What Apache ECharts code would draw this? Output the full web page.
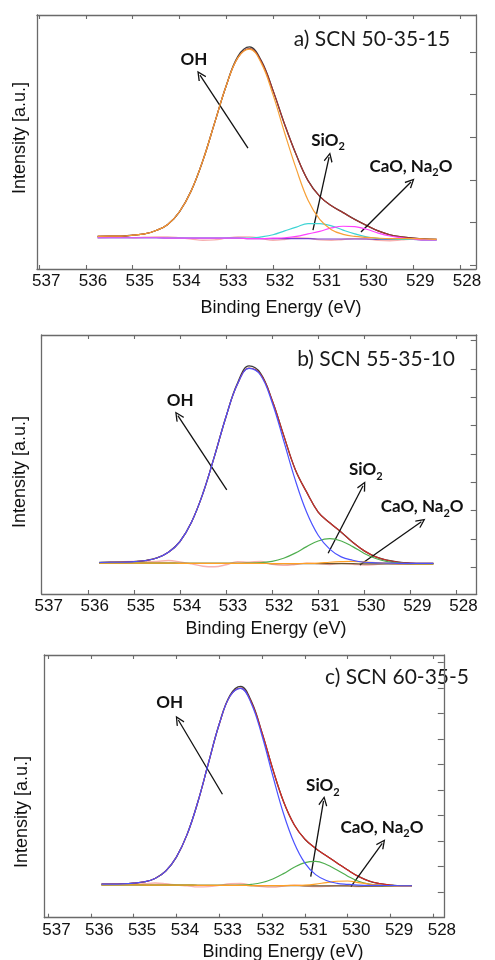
<!DOCTYPE html>
<html><head><meta charset="utf-8">
<script src="https://cdn.jsdelivr.net/npm/echarts@6/dist/echarts.min.js"></script>
<style>html,body{margin:0;padding:0;background:#fff}#c{width:495px;height:960px}</style>
</head><body><div id="c"></div>
<script>
// Binding energy grid (eV) shared by all fitted curves
const energy = [535.75,535.5,535.25,535.0,534.75,534.5,534.25,534.0,533.75,533.5,533.25,533.0,532.75,532.5,532.25,532.0,531.75,531.5,531.25,531.0,530.75,530.5,530.25,530.0,529.75,529.5,529.25,529.0,528.75,528.5];
const xTickLabels = [528,529,530,531,532,533,534,535,536,537];

// a) SCN 50-35-15
const a_total = [0.67,0.68,0.68,0.70,0.73,0.81,0.95,1.25,1.74,2.45,3.33,4.21,4.90,5.12,4.80,4.10,3.30,2.58,1.98,1.61,1.39,1.23,1.07,0.93,0.80,0.71,0.66,0.63,0.61,0.60];
const a_fit   = [0.67,0.68,0.68,0.70,0.73,0.81,0.95,1.25,1.74,2.45,3.33,4.21,4.87,5.08,4.78,4.10,3.30,2.58,1.98,1.61,1.39,1.23,1.07,0.93,0.80,0.71,0.66,0.63,0.61,0.60];
const a_oh    = [0.67,0.68,0.68,0.70,0.73,0.81,0.95,1.25,1.74,2.45,3.33,4.21,4.87,5.07,4.74,4.00,3.10,2.25,1.52,1.07,0.83,0.72,0.67,0.65,0.63,0.62,0.62,0.62,0.61,0.60];
const a_sio2  = [0.64,0.64,0.64,0.64,0.64,0.64,0.63,0.63,0.63,0.63,0.63,0.63,0.63,0.63,0.66,0.71,0.80,0.89,0.97,0.97,0.92,0.82,0.73,0.66,0.62,0.61,0.60,0.60,0.59,0.59];
const a_cao   = [0.64,0.64,0.64,0.64,0.64,0.64,0.63,0.63,0.63,0.63,0.63,0.63,0.63,0.62,0.62,0.63,0.64,0.67,0.73,0.79,0.87,0.91,0.90,0.84,0.75,0.68,0.64,0.61,0.59,0.59];
const a_bg    = [0.64,0.64,0.64,0.64,0.64,0.64,0.63,0.63,0.63,0.63,0.63,0.63,0.63,0.62,0.62,0.62,0.62,0.62,0.62,0.61,0.61,0.61,0.61,0.61,0.60,0.60,0.60,0.60,0.59,0.59];
const a_resid = [0.64,0.65,0.66,0.64,0.65,0.66,0.66,0.64,0.61,0.58,0.59,0.63,0.66,0.66,0.62,0.58,0.60,0.64,0.63,0.59,0.58,0.60,0.62,0.61,0.58,0.57,0.59,0.61,0.59,0.59];

// b) SCN 55-35-10
const b_total = [0.17,0.18,0.18,0.20,0.24,0.33,0.53,0.91,1.59,2.61,3.92,5.31,6.50,7.10,6.84,5.89,4.66,3.46,2.65,1.95,1.57,1.24,0.88,0.58,0.37,0.25,0.18,0.15,0.14,0.14];
const b_fit   = [0.17,0.18,0.18,0.20,0.24,0.33,0.53,0.91,1.59,2.61,3.92,5.31,6.46,7.02,6.80,5.89,4.66,3.46,2.65,1.95,1.57,1.24,0.88,0.58,0.37,0.25,0.18,0.15,0.14,0.14];
const b_oh    = [0.17,0.18,0.18,0.20,0.24,0.33,0.53,0.91,1.59,2.61,3.92,5.31,6.46,7.01,6.77,5.81,4.47,3.09,1.94,1.13,0.64,0.37,0.25,0.18,0.16,0.15,0.14,0.14,0.14,0.14];
const b_sio2  = [0.15,0.15,0.15,0.15,0.15,0.15,0.15,0.14,0.14,0.14,0.14,0.14,0.14,0.15,0.17,0.21,0.32,0.50,0.73,0.93,1.01,0.93,0.73,0.49,0.31,0.20,0.15,0.13,0.12,0.12];
const b_cao   = [0.15,0.15,0.15,0.15,0.15,0.15,0.15,0.14,0.14,0.14,0.14,0.14,0.14,0.14,0.14,0.13,0.13,0.13,0.14,0.15,0.18,0.20,0.21,0.19,0.17,0.15,0.13,0.13,0.12,0.12];
const b_bg    = [0.15,0.15,0.15,0.15,0.15,0.15,0.15,0.14,0.14,0.14,0.14,0.14,0.14,0.14,0.14,0.13,0.13,0.13,0.13,0.13,0.13,0.13,0.13,0.12,0.12,0.12,0.12,0.12,0.12,0.12];
const b_resid = [0.15,0.17,0.20,0.21,0.20,0.21,0.24,0.19,0.12,0.04,0.02,0.09,0.20,0.18,0.21,0.11,0.07,0.10,0.15,0.13,0.10,0.14,0.11,0.08,0.10,0.13,0.12,0.11,0.12,0.12];

// c) SCN 60-35-5
const c_total = [0.31,0.31,0.32,0.35,0.40,0.53,0.82,1.37,2.26,3.53,5.07,6.59,7.72,8.07,7.48,6.24,4.82,3.55,2.64,2.07,1.71,1.42,1.14,0.86,0.61,0.43,0.33,0.27,0.24,0.24];
const c_fit   = [0.31,0.31,0.32,0.35,0.40,0.53,0.82,1.37,2.26,3.53,5.07,6.59,7.68,8.00,7.44,6.24,4.82,3.55,2.64,2.07,1.71,1.42,1.14,0.86,0.61,0.43,0.33,0.27,0.24,0.24];
const c_oh    = [0.31,0.31,0.32,0.35,0.40,0.53,0.82,1.37,2.26,3.53,5.07,6.59,7.68,7.99,7.39,6.12,4.56,3.08,1.92,1.13,0.68,0.45,0.34,0.30,0.27,0.26,0.26,0.25,0.24,0.24];
const c_sio2  = [0.28,0.28,0.28,0.28,0.27,0.27,0.27,0.27,0.27,0.26,0.26,0.26,0.26,0.27,0.30,0.37,0.51,0.72,0.97,1.15,1.20,1.08,0.86,0.62,0.42,0.31,0.26,0.24,0.22,0.22];
const c_cao   = [0.28,0.28,0.28,0.28,0.27,0.27,0.27,0.27,0.27,0.26,0.26,0.26,0.26,0.26,0.25,0.25,0.25,0.25,0.26,0.27,0.31,0.37,0.42,0.43,0.37,0.31,0.27,0.24,0.22,0.22];
const c_bg    = [0.28,0.28,0.28,0.28,0.27,0.27,0.27,0.27,0.27,0.26,0.26,0.26,0.26,0.26,0.25,0.25,0.25,0.25,0.25,0.24,0.24,0.24,0.24,0.24,0.23,0.23,0.23,0.23,0.22,0.22];
const c_resid = [0.28,0.30,0.32,0.31,0.32,0.35,0.32,0.27,0.24,0.20,0.21,0.26,0.32,0.33,0.27,0.21,0.19,0.23,0.27,0.24,0.21,0.22,0.25,0.24,0.21,0.23,0.24,0.23,0.22,0.22];

// Panel texts
const titles = ['a) SCN 50-35-15', 'b) SCN 55-35-10', 'c) SCN 60-35-5'];
const xName = 'Binding Energy (eV)';
const yName = 'Intensity [a.u.]';
const peakLabels = ['{b|OH}', '{b|SiO}{s|2}', '{b|CaO, Na}{s|2}{b|O}'];

// Layout / annotation placement (data coordinates of each panel)
const panels = [
  { grid:{left:37, top:15, width:439, height:254}, xMin:527.658, xMax:537.047, yMin:-0.094, yMax:5.87, yTicks:[0,1,2,3,4,5], shift:14,
    s:{total:a_total, fit:a_fit, oh:a_oh, sio2:a_sio2, cao:a_cao, bg:a_bg, resid:a_resid},
    colors:{oh:'#f7a036', sio2:'#3fd4d4', cao:'#ff40ff', bg:'#7b3fd0', fit:'#a8342f'},
    arrows:[[[532.535,2.746],[533.561,4.46]], [[531.145,0.82],[530.80,2.535]], [[530.118,0.775],[529.049,1.948]]],
    labels:[[533.689,4.836],[530.824,2.934],[529.049,2.324]],
    title:[372,39], xNamePos:[281,308], yNamePos:[20,138] },
  { grid:{left:41.7, top:335, width:435, height:259}, xMin:527.56, xMax:537.0, yMin:-0.94, yMax:8.19, yTicks:[0,1,2,3,4,5,6,7,8], shift:14,
    s:{total:b_total, fit:b_fit, oh:b_oh, sio2:b_sio2, cao:b_cao, bg:b_bg, resid:b_resid},
    colors:{oh:'#4b52ff', sio2:'#4fae4f', cao:'#ffa024', bg:'#6b5530', fit:'#c9302a'},
    arrows:[[[532.984,2.727],[534.045,5.347]], [[530.784,0.494],[530.026,2.878]], [[530.097,0.081],[528.761,1.608]]],
    labels:[[533.995,5.866],[529.968,3.432],[528.744,2.138]],
    title:[376,359], xNamePos:[266,629], yNamePos:[20,472] },
  { grid:{left:44.3, top:655, width:437.4, height:262.7}, xMin:527.757, xMax:537.085, yMin:-1.01, yMax:9.30, yTicks:[0,1,2,3,4,5,6,7,8,9], shift:17,
    s:{total:c_total, fit:c_fit, oh:c_oh, sio2:c_sio2, cao:c_cao, bg:c_bg, resid:c_resid},
    colors:{oh:'#4b52ff', sio2:'#4fae4f', cao:'#ffa024', bg:'#6b5530', fit:'#d62a22'},
    arrows:[[[532.926,3.834],[533.956,6.75]], [[530.864,0.60],[530.565,3.571]], [[529.925,0.208],[529.194,1.911]]],
    labels:[[534.155,7.43],[530.58,4.16],[529.201,2.539]],
    title:[397,677], xNamePos:[283,952], yNamePos:[21.7,812] }
];

const boxColor = '#6a6a6a';
const arrowHead = 'path://M5,0 L10,9 L8.8,9.8 L5,2.8 L1.2,9.8 L0,9 Z';
const grids = [], xAxes = [], yAxes = [], series = [], graphics = [];

panels.forEach((p, i) => {
  grids.push(Object.assign({}, p.grid));
  const axisLine = {show:true, onZero:false, lineStyle:{color:boxColor, width:1.3}};
  const tickStyle = {color:boxColor, width:1.1};
  xAxes.push({gridIndex:i, type:'value', min:p.xMin, max:p.xMax, inverse:true, position:'bottom',
    axisLine, axisTick:{show:true, inside:true, length:4, customValues:xTickLabels, lineStyle:tickStyle},
    axisLabel:{show:true, customValues:xTickLabels, fontFamily:'Liberation Sans', fontSize:17, color:'#111', margin:4, padding:[0,0,0,p.shift]},
    splitLine:{show:false}});
  xAxes.push({gridIndex:i, type:'value', min:p.xMin, max:p.xMax, inverse:true, position:'top',
    axisLine, axisTick:{show:true, inside:true, length:4, customValues:xTickLabels, lineStyle:tickStyle},
    axisLabel:{show:false}, splitLine:{show:false}});
  yAxes.push({gridIndex:i, type:'value', min:p.yMin, max:p.yMax, position:'left',
    axisLine, axisTick:{show:false}, axisLabel:{show:false}, splitLine:{show:false}});
  yAxes.push({gridIndex:i, type:'value', min:p.yMin, max:p.yMax, position:'right',
    axisLine, axisTick:{show:true, inside:true, length:6, customValues:p.yTicks, lineStyle:tickStyle},
    axisLabel:{show:false}, splitLine:{show:false}});
  const xi = 2*i, yi = 2*i;
  const mk = (arr, color, width, z, extra) => Object.assign({
    type:'line', xAxisIndex:xi, yAxisIndex:yi, data: energy.map((e,k) => [e, arr[k]]),
    showSymbol:false, symbol:'none', smooth:0.4, lineStyle:{color, width}, itemStyle:{color},
    z, silent:true, animation:false}, extra || {});
  series.push(mk(p.s.resid, '#f6b0b0', 1.4, 2));
  series.push(mk(p.s.total, '#3a3a3a', 1.3, 3, {
    markLine:{silent:true, animation:false, symbol:['none', arrowHead], symbolSize:[9,10],
      label:{show:false}, lineStyle:{color:'#111', width:1.3, type:'solid'},
      data: p.arrows.map(a => [{coord:a[0]}, {coord:a[1]}])},
    markPoint:{silent:true, animation:false,
      data: p.labels.map((pos, k) => ({coord:pos, symbol:'circle', symbolSize:1, itemStyle:{color:'rgba(0,0,0,0)'},
        label:{show:true, position:'inside', formatter:peakLabels[k],
          rich:{b:{fontFamily:'Lato', fontWeight:'bold', fontSize:17, color:'#111', lineHeight:24, verticalAlign:'middle'},
                s:{fontFamily:'Lato', fontWeight:'bold', fontSize:11, color:'#111', verticalAlign:'bottom'}}}}))}
  }));
  series.push(mk(p.s.fit, p.colors.fit, 1.2, 4));
  series.push(mk(p.s.bg, p.colors.bg, 1.2, 5));
  series.push(mk(p.s.sio2, p.colors.sio2, 1.2, 6));
  series.push(mk(p.s.cao, p.colors.cao, 1.2, 6));
  series.push(mk(p.s.oh, p.colors.oh, 1.2, 7));

  graphics.push({type:'text', x:p.title[0], y:p.title[1], silent:true,
    style:{text:titles[i], fontFamily:'Lato', fontSize:21, fill:'#1a1a1a', align:'center', verticalAlign:'middle'}});
  graphics.push({type:'text', x:p.xNamePos[0], y:p.xNamePos[1], silent:true,
    style:{text:xName, fontFamily:'Liberation Sans', fontSize:18, fill:'#111', align:'center', verticalAlign:'middle'}});
  graphics.push({type:'text', x:p.yNamePos[0], y:p.yNamePos[1], rotation:Math.PI/2, silent:true,
    style:{text:yName, fontFamily:'Liberation Sans', fontSize:18, fill:'#111', align:'center', verticalAlign:'middle'}});
});

const chart = echarts.init(document.getElementById('c'), null, {renderer:'canvas'});
chart.setOption({
  backgroundColor:'#ffffff', animation:false,
  grid:grids, xAxis:xAxes, yAxis:yAxes, series, graphic:graphics
});
</script></body></html>
